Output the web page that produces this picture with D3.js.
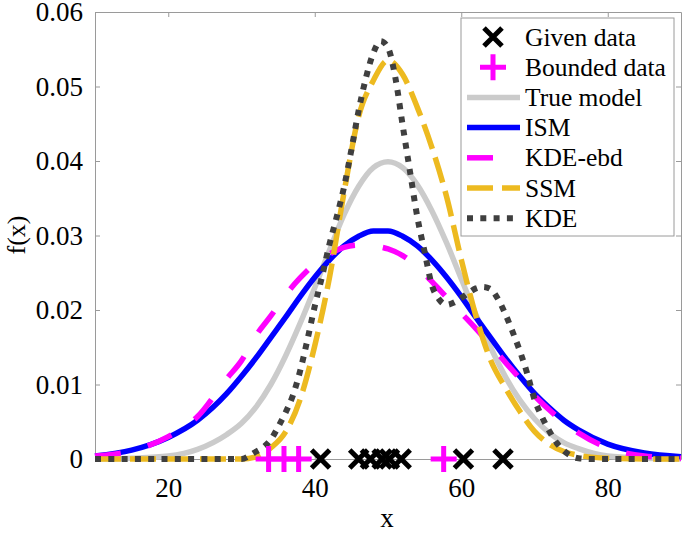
<!DOCTYPE html>
<html><head><meta charset="utf-8">
<script src="https://cdn.jsdelivr.net/npm/d3@7"></script>
<style>
body{margin:0;background:#fff}
text{font-family:"Liberation Serif","Times New Roman",serif;fill:#000}
</style>
</head><body>
<svg id="c" width="685" height="533"></svg>
<script>
// ---- data ----
const givenData = [40.8, 46.0, 47.6, 49.2, 50.2, 51.8, 60.3, 65.7];
const boundedData = [33.7, 35.8, 37.8, 57.6];

const trueModel = [[10,0],[15,.0001],[20,.0004],[24,.0013],[28,.0033],[30,.0048],[32,.0070],[34,.0100],[36,.0138],[38,.0182],[40,.0230],[42,.0280],[44,.0328],[46,.0366],[48,.0391],[50,.0399],[52,.0391],[54,.0368],[56,.0333],[58,.0290],[60,.0242],[62,.0194],[64,.0150],[66,.0111],[68,.0079],[70,.0054],[72,.0035],[74,.0022],[76,.0014],[80,.0004],[85,.0001],[90,0]];

const ism = [[10,.0004],[15,.0012],[20,.0029],[24,.0052],[28,.0088],[30,.0111],[32,.0136],[34,.0163],[36,.0190],[38,.0218],[40,.0244],[42,.0267],[44,.0286],[46,.0299],[48,.0306],[50,.0306],[52,.0299],[54,.0286],[56,.0267],[58,.0244],[60,.0218],[62,.0190],[64,.0163],[66,.0136],[68,.0111],[70,.0088],[72,.0069],[74,.0052],[76,.0039],[80,.0020],[85,.0008],[90,.0003]];

const kdeEbd = [[10,.0004],[15,.0011],[20,.0030],[24,.0057],[28,.0108],[30,.0132],[32,.0166],[34,.0192],[36,.0220],[38,.0243],[40,.0262],[42,.0275],[44,.0284],[46,.0287],[48,.0286],[50,.0282],[52,.0273],[54,.0258],[56,.0238],[58,.0217],[60,.0196],[62,.0175],[64,.0153],[66,.0130],[68,.0108],[70,.0085],[72,.0066],[74,.0049],[76,.0035],[80,.0015],[85,.0004],[90,.0001]];

const ssm = [[10,0],[30,0],[32,.0003],[34,.0015],[36,.0036],[38,.0080],[40,.0152],[42,.0243],[44,.0358],[46,.0460],[48,.0508],[50,.0535],[52,.0516],[54,.0472],[56,.0418],[58,.0352],[60,.0268],[62,.0192],[64,.0133],[66,.0096],[68,.0064],[70,.0037],[72,.0020],[74,.0010],[76,.0005],[80,.0001],[85,0],[90,0]];

const kde = [[10,0],[30,0],[31,.0004],[32,.0010],[33,.0016],[34,.0026],[35,.0043],[36,.0062],[37,.0085],[38,.0118],[39,.0160],[40,.0205],[41,.0245],[42,.0288],[43,.0325],[44,.0365],[45,.0415],[46,.0468],[47,.0512],[48,.0545],[49,.0561],[50,.0552],[51,.0512],[52,.0448],[53,.0386],[54,.0325],[55,.0278],[56,.0233],[57,.0214],[58,.0207],[59,.0210],[60,.0216],[61,.0223],[62,.0229],[63,.0231],[64,.0228],[65,.0215],[66,.0195],[67,.0171],[68,.0145],[69,.0115],[70,.0080],[71,.0057],[72,.0038],[73,.0022],[74,.0011],[75,.0004],[76,.0001],[78,0],[90,0]];

const xTicks = [20, 40, 60, 80];
const yTicks = [0, 0.01, 0.02, 0.03, 0.04, 0.05, 0.06];
const legendLabels = ["Given data","Bounded data","True model","ISM","KDE-ebd","SSM","KDE"];

// ---- drawing ----
const svg = d3.select("#c");
const L=95, R=681, T=12, B=459;
const x = d3.scaleLinear().domain([10,90]).range([L,R]);
const y = d3.scaleLinear().domain([0,0.06]).range([B,T]);
const axisColor = "#9a9a9a";

function styleAxis(g){
  g.selectAll("path.domain").attr("stroke",axisColor).attr("stroke-width",1);
  g.selectAll(".tick line").attr("stroke",axisColor).attr("stroke-width",1);
  g.selectAll("text").attr("font-family",'"Liberation Serif","Times New Roman",serif').attr("font-size",27).attr("fill","#000");
}
const yFmt = d => d===0 ? "0" : d3.format(".2f")(d);

const gL = svg.append("g").attr("transform",`translate(${L},0)`)
  .call(d3.axisLeft(y).tickValues(yTicks).tickFormat(yFmt).tickSizeInner(-5).tickSizeOuter(0).tickPadding(12));
styleAxis(gL);
const gB = svg.append("g").attr("transform",`translate(0,${B})`)
  .call(d3.axisBottom(x).tickValues(xTicks).tickSizeInner(-5).tickSizeOuter(0).tickPadding(19));
styleAxis(gB);
const gT = svg.append("g").attr("transform",`translate(0,${T})`)
  .call(d3.axisTop(x).tickValues(xTicks).tickFormat("").tickSizeInner(-5).tickSizeOuter(0));
styleAxis(gT);
const gR = svg.append("g").attr("transform",`translate(${R},0)`)
  .call(d3.axisRight(y).tickValues(yTicks).tickFormat("").tickSizeInner(-5).tickSizeOuter(0));
styleAxis(gR);

// axis labels
svg.append("text").attr("x",387).attr("y",527).attr("text-anchor","middle").attr("font-size",27).text("x");
svg.append("text").attr("transform","translate(25,235) rotate(-90)").attr("text-anchor","middle").attr("font-size",26).text("f(x)");

const line = d3.line().x(d=>x(d[0])).y(d=>y(d[1])).curve(d3.curveMonotoneX);

const series = [
  {data: trueModel, color:"#cbcbcb", width:5.5, dash:null},
  {data: ism, color:"#0000ff", width:5.5, dash:null},
  {data: kdeEbd, color:"#ff00ff", width:5.5, dash:"26,28"},
  {data: ssm, color:"#EDBA20", width:5.5, dash:"26,9"},
  {data: kde, color:"#3f3f3f", width:6, dash:"6,7.3"}
];
series.forEach(s=>{
  svg.append("path").datum(s.data).attr("d",line)
    .attr("fill","none").attr("stroke",s.color).attr("stroke-width",s.width)
    .attr("stroke-dasharray",s.dash).attr("stroke-linecap","butt").attr("stroke-linejoin","round");
});

// markers
function drawX(g, cx, cy){
  const a=9;
  g.append("path").attr("d",`M${cx-a},${cy-a}L${cx+a},${cy+a}M${cx-a},${cy+a}L${cx+a},${cy-a}`)
    .attr("stroke","#000").attr("stroke-width",5).attr("fill","none");
}
function drawPlus(g, cx, cy){
  const a=13;
  g.append("path").attr("d",`M${cx-a},${cy}L${cx+a},${cy}M${cx},${cy-a}L${cx},${cy+a}`)
    .attr("stroke","#ff00ff").attr("stroke-width",5).attr("fill","none");
}
const gm = svg.append("g");
boundedData.forEach(v=>drawPlus(gm, x(v), y(0)));
givenData.forEach(v=>drawX(gm, x(v), y(0)));

// legend
const lg = svg.append("g");
lg.append("rect").attr("x",461).attr("y",18).attr("width",213).attr("height",218)
  .attr("fill","#fff").attr("stroke",axisColor).attr("stroke-width",1);
const rowY = i => 37 + i*30.2;
legendLabels.forEach((t,i)=>{
  lg.append("text").attr("x",525).attr("y",rowY(i)+8.5).attr("font-size",25.5).text(t);
});
drawX(lg, 493, rowY(0));
drawPlus(lg, 493, rowY(1));
series.forEach((s,i)=>{
  lg.append("line").attr("x1",467).attr("x2",520).attr("y1",rowY(i+2)).attr("y2",rowY(i+2))
    .attr("stroke",s.color).attr("stroke-width",s.width).attr("stroke-dasharray",s.dash);
});
</script>
</body></html>
